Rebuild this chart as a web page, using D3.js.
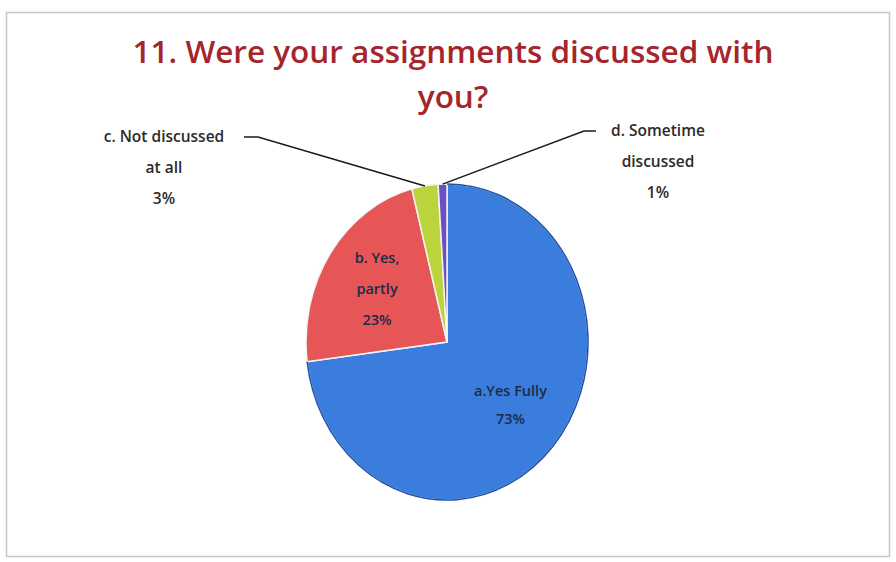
<!DOCTYPE html>
<html>
<head>
<meta charset="utf-8">
<script src="https://cdn.jsdelivr.net/npm/d3@7"></script>
<style>
  body { margin: 0; background: #fff; }
  svg { display: block; }
</style>
</head>
<body>
<svg id="chart" width="896" height="562"></svg>
<script>
// answers, in the order they go round the pie (clockwise from 12 o'clock)
const categories = ["a.Yes Fully", "b. Yes, partly", "c. Not discussed at all", "d. Sometime discussed"];
const values = [73, 23, 3, 1];
// how each label is broken into lines (last line is the percent)
const labelLines = [
  ["a.Yes Fully", "73%"],
  ["b. Yes,", "partly", "23%"],
  ["c. Not discussed", "at all", "3%"],
  ["d. Sometime", "discussed", "1%"]
];
const titleLines = ["11. Were your assignments discussed with", "you?"];

const width = 896, height = 562;
const cx = 447, cy = 342, rx = 141, ry = 158;

const svg = d3.select("#chart");

// frame
svg.append("rect")
  .attr("x", 6.5).attr("y", 12.5)
  .attr("width", 883).attr("height", 544)
  .attr("fill", "#fff")
  .attr("stroke", "#c8c8c8")
  .attr("stroke-width", 1.5);

// title
svg.append("g").selectAll("text")
  .data(titleLines)
  .enter()
  .append("text")
  .attr("x", 453)
  .attr("y", (d, i) => 63 + i * 45)
  .attr("text-anchor", "middle")
  .attr("font-family", "Open Sans, sans-serif")
  .attr("font-weight", 600)
  .attr("font-size", "31.5px")
  .attr("fill", "#a4262c")
  .text(d => d);

const color = d3.scaleOrdinal()
  .domain(categories)
  .range(["#3b7ddd", "#e65656", "#bcd43c", "#6c4fc0"]);

const pie = d3.pie().sort(null).value(d => d.v);
const arcs = pie(categories.map((c, i) => ({ c: c, v: values[i], lines: labelLines[i] })));

const arc = d3.arc().innerRadius(0).outerRadius(1);

// the scanned pie is a bit taller than wide, so draw on a unit circle and stretch
const pieG = svg.append("g")
  .attr("transform", `translate(${cx},${cy}) scale(${rx},${ry})`);

pieG.selectAll("path")
  .data(arcs)
  .enter()
  .append("path")
  .attr("d", arc)
  .attr("fill", d => color(d.data.c))
  .attr("stroke", "#f4f4f4")
  .attr("stroke-width", 1.5)
  .attr("vector-effect", "non-scaling-stroke");

// thin dark rim like the scan
pieG.append("path")
  .attr("d", d3.arc().innerRadius(1).outerRadius(1).startAngle(0).endAngle(arcs[0].endAngle)())
  .attr("fill", "none")
  .attr("stroke", "#1f4fa8")
  .attr("stroke-width", 1.5)
  .attr("vector-effect", "non-scaling-stroke");

function pt(angle, r) {
  return [cx + rx * r * Math.sin(angle), cy - ry * r * Math.cos(angle)];
}

const lineH = 31;
const fontL = "Open Sans, sans-serif";

// inside labels for the two big slices
arcs.slice(0, 2).forEach(d => {
  const mid = (d.startAngle + d.endAngle) / 2;
  const p = pt(mid, 0.6);
  const n = d.data.lines.length;
  svg.append("g").selectAll("text")
    .data(d.data.lines)
    .enter()
    .append("text")
    .attr("x", p[0])
    .attr("y", (t, i) => p[1] + (i - (n - 1) / 2) * (n == 2 ? 28 : lineH) + 5)
    .attr("text-anchor", "middle")
    .attr("font-family", fontL)
    .attr("font-size", "14.5px")
    .attr("font-weight", 600)
    .attr("fill", "#1b2a4a")
    .text(t => t);
});

// outside labels with leader lines
const outside = [
  { idx: 2, tx: 164, ty: 142, elbow: 258, end: 244 },
  { idx: 3, tx: 658, ty: 136, elbow: 584, end: 596 }
];

outside.forEach(o => {
  const d = arcs[o.idx];
  const mid = (d.startAngle + d.endAngle) / 2;
  const p = pt(mid, 1);
  svg.append("polyline")
    .attr("points", `${p[0]},${p[1]} ${o.elbow},${o.ty - 5} ${o.end},${o.ty - 5}`)
    .attr("fill", "none")
    .attr("stroke", "#1a1a1a")
    .attr("stroke-width", 1.5);

  svg.append("g").selectAll("text")
    .data(d.data.lines)
    .enter()
    .append("text")
    .attr("x", o.tx)
    .attr("y", (t, i) => o.ty + i * lineH)
    .attr("text-anchor", "middle")
    .attr("font-family", fontL)
    .attr("font-size", "15.5px")
    .attr("font-weight", 600)
    .attr("fill", "#2b2b2b")
    .text(t => t);
});
</script>
</body>
</html>
